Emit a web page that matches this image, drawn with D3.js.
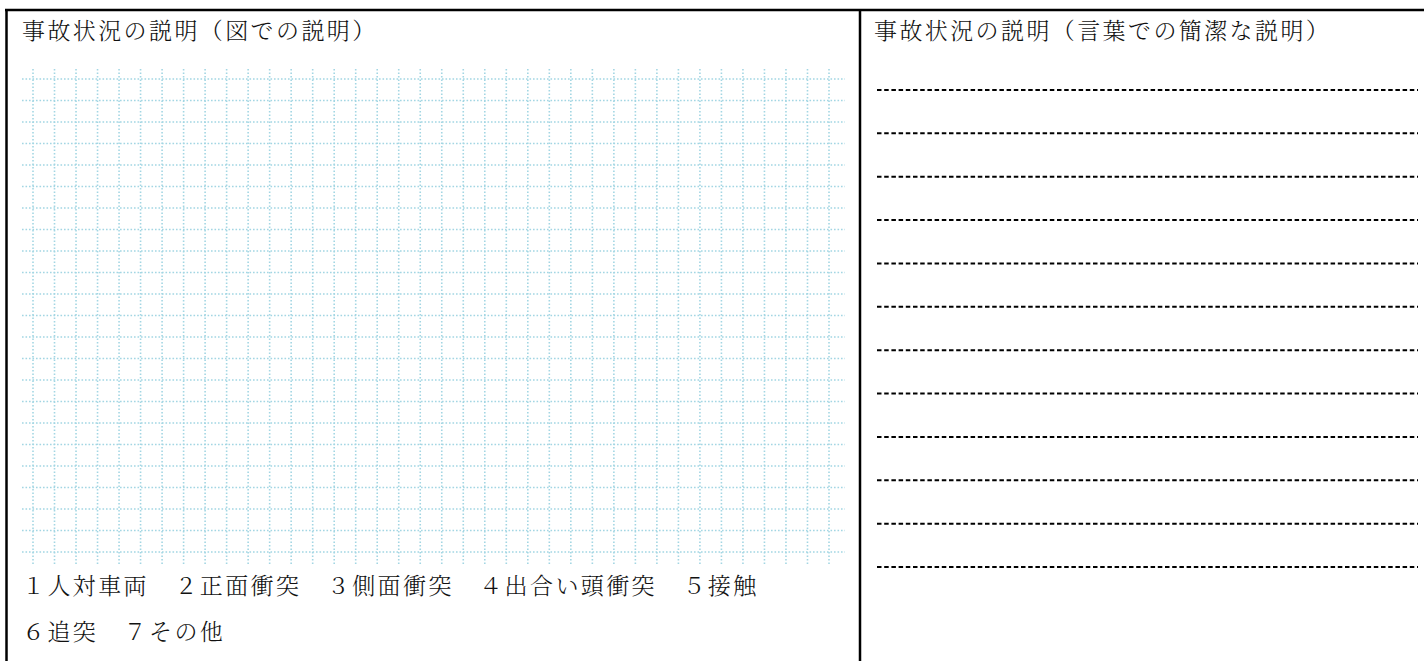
<!DOCTYPE html>
<html>
<head>
<meta charset="utf-8">
<script src="https://cdn.jsdelivr.net/npm/d3@7"></script>
<style>
  html, body { margin: 0; padding: 0; background: #fff; }
  svg { display: block; }
  text { font-family: "Noto Serif CJK JP", "Noto Sans CJK JP", sans-serif; font-weight: 300; fill: #111; }
</style>
</head>
<body>
<div id="chart"></div>
<script>
'use strict';

// texts of the form
var titles = ['事故状況の説明（図での説明）', '事故状況の説明（言葉での簡潔な説明）'];
var accidentNos = ['１', '２', '３', '４', '５', '６', '７'];
var accidentTypes = ['人対車両', '正面衝突', '側面衝突', '出合い頭衝突', '接触', '追突', 'その他'];
var typeRows = [0, 0, 0, 0, 0, 1, 1];

// grid of the drawing area and ruled lines of the writing area
var gridCols = d3.range(38);
var gridRows = d3.range(23);
var ruledLines = d3.range(12);

function draw() {
  var width = 1424;
  var height = 661;

  var svg = d3.select('#chart').append('svg')
    .attr('width', width)
    .attr('height', height);

  // scales
  var xGrid = d3.scaleLinear().domain([0, gridCols.length - 1]).range([33, 829]);
  var yGrid = d3.scaleLinear().domain([0, gridRows.length - 1]).range([79, 552]);
  var yRule = d3.scaleLinear().domain([0, ruledLines.length - 1]).range([90, 567]);
  var yType = d3.scaleLinear().domain([0, 1]).range([594, 640]);

  // frame
  var frame = svg.append('g').attr('stroke', '#000').attr('stroke-width', 2.5);
  frame.append('line').attr('x1', 5).attr('x2', width).attr('y1', 10).attr('y2', 10);
  frame.append('line').attr('x1', 6.5).attr('x2', 6.5).attr('y1', 9).attr('y2', height);
  frame.append('line').attr('x1', 860).attr('x2', 860).attr('y1', 9).attr('y2', height);

  // titles
  svg.selectAll('text.title')
    .data(titles).enter()
    .append('text')
    .attr('class', 'title')
    .attr('x', function (d, i) { return i === 0 ? 22 : 874; })
    .attr('y', 39)
    .attr('font-size', 23)
    .attr('letter-spacing', 2.4)
    .text(function (d) { return d; });

  // dotted grid
  var grid = svg.append('g')
    .attr('stroke', '#a3d6e3')
    .attr('stroke-width', 1.6)
    .attr('stroke-dasharray', '1.6,1.9');

  grid.selectAll('line.h')
    .data(gridRows).enter()
    .append('line')
    .attr('class', 'h')
    .attr('x1', 22).attr('x2', 845)
    .attr('y1', function (d) { return yGrid(d); })
    .attr('y2', function (d) { return yGrid(d); });

  grid.selectAll('line.v')
    .data(gridCols).enter()
    .append('line')
    .attr('class', 'v')
    .attr('x1', function (d) { return xGrid(d); })
    .attr('x2', function (d) { return xGrid(d); })
    .attr('y1', 69).attr('y2', 564);

  // dashed writing lines
  svg.append('g')
    .attr('stroke', '#000')
    .attr('stroke-width', 2)
    .attr('stroke-dasharray', '4.5,2.7')
    .selectAll('line')
    .data(ruledLines).enter()
    .append('line')
    .attr('x1', 877).attr('x2', 1418)
    .attr('y1', function (d) { return yRule(d); })
    .attr('y2', function (d) { return yRule(d); });

  // accident types, two rows
  var rows = d3.groups(accidentTypes.map(function (t, i) {
    return { no: accidentNos[i], name: t, row: typeRows[i] };
  }), function (d) { return d.row; });

  svg.selectAll('text.types')
    .data(rows).enter()
    .append('text')
    .attr('class', 'types')
    .attr('x', 22)
    .attr('y', function (d) { return yType(d[0]); })
    .attr('font-size', 23)
    .attr('letter-spacing', 2.4)
    .text(function (d) {
      return d[1].map(function (e) { return e.no + e.name; }).join('\u3000');
    });
}

draw();
</script>
</body>
</html>
